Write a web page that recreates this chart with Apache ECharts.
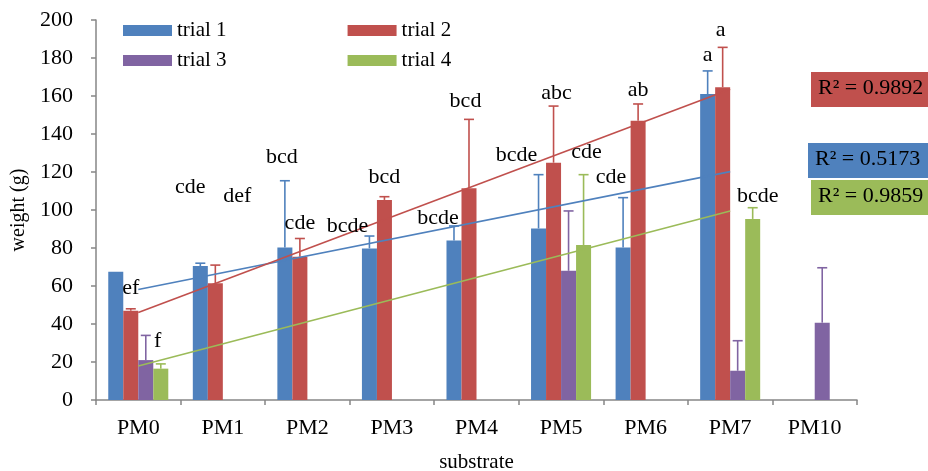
<!DOCTYPE html>
<html>
<head>
<meta charset="utf-8">
<script src="https://cdn.jsdelivr.net/npm/echarts@6/dist/echarts.min.js"></script>
<style>html,body{margin:0;padding:0;background:#fff}#c{width:928px;height:471px}</style>
</head>
<body>
<div id="c"></div>
<script>
const categories = ['PM0','PM1','PM2','PM3','PM4','PM5','PM6','PM7','PM10'];
const seriesNames = ['trial 1','trial 2','trial 3','trial 4'];
const trial1 = [67.5, 70.5, 80.3, 79.8, 83.9, 90.3, 80.2, 161.0, null];
const trial2 = [47.0, 61.4, 75.4, 105.3, 111.4, 124.9, 147.0, 164.6, null];
const trial3 = [21.0, null, null, null, null, 68.0, null, 15.4, 40.7];
const trial4 = [16.5, null, null, null, null, 81.6, null, 95.3, null];
const err1 = [0, 1.5, 35.1, 6.5, 7.7, 28.3, 26.3, 12.2, null];
const err2 = [1.0, 9.6, 9.6, 1.7, 36.3, 29.8, 8.8, 21.0, null];
const err3 = [13.0, null, null, null, null, 31.5, null, 15.8, 28.9];
const err4 = [2.5, null, null, null, null, 37.0, null, 5.9, null];
// linear trendlines: value at PM0 and at PM7
const trendStartIdx = 0, trendEndIdx = 7;
const trend1 = [58.2, 120.2];
const trend2 = [46.0, 163.5];
const trend4 = [17.9, 99.5];
const r2Labels = ['R² = 0.9892', 'R² = 0.5173', 'R² = 0.9859'];
// significance letters: [category index, trial index, y value, text]
const letters = [
  [0,1,59,'ef'],[0,2,31,'f'],[1,0,112,'cde'],[1,1,107,'def'],
  [2,0,127.8,'bcd'],[2,1,93.2,'cde'],[3,0,91.6,'bcde'],[3,1,117.5,'bcd'],
  [4,0,95.6,'bcde'],[4,1,157.5,'bcd'],[5,0,129,'bcde'],[5,1,161.4,'abc'],
  [5,3,130.2,'cde'],[6,0,117.2,'cde'],[6,1,162.8,'ab'],[7,0,181.6,'a'],
  [7,1,194.4,'a'],[7,3,107,'bcde']
];
const yTicks = [0,20,40,60,80,100,120,140,160,180,200];

// ---- styles ----
const colors = ['#4F81BD','#C0504D','#8064A2','#9BBB59'];
const letterNudge = [0,12,-10,22,-3,0,-22,0,-16,-3.5,-22,3,3,-12,0,0,-2,5];
const FONT = '"Liberation Serif","Times New Roman",serif';
const GAP = 0.29;
const values = [trial1, trial2, trial3, trial4];
const errs = [err1, err2, err3, err4];

function slotX(api, cat, trial) {
  const c = api.coord([cat, 0]);
  const band = api.size([1, 0])[0];
  const bw = band * (1 - GAP) / 4;
  return c[0] + (trial - 1.5) * bw;
}

const series = [];
values.forEach((v, t) => {
  series.push({
    name: seriesNames[t], type: 'bar', data: v, barGap: 0, barCategoryGap: (GAP*100)+'%',
    itemStyle: { color: colors[t] }, z: 2, animation: false
  });
});
values.forEach((v, t) => {
  const data = [];
  v.forEach((val, i) => { if (val != null && errs[t][i]) data.push([i, val, val + errs[t][i]]); });
  series.push({
    type: 'custom', z: 4, animation: false, silent: true,
    data: data,
    renderItem: function (params, api) {
      const cat = api.value(0);
      const x = slotX(api, cat, t);
      const y0 = api.coord([cat, api.value(1)])[1];
      const y1 = api.coord([cat, api.value(2)])[1];
      const st = { stroke: colors[t], lineWidth: 1.6 };
      return { type: 'group', children: [
        { type: 'line', shape: { x1: x, y1: y0, x2: x, y2: y1 }, style: st },
        { type: 'line', shape: { x1: x - 5, y1: y1, x2: x + 5, y2: y1 }, style: st }
      ]};
    }
  });
});
[[trend1, 0], [trend2, 1], [trend4, 3]].forEach(([tr, t]) => {
  const d = categories.map(() => null);
  d[trendStartIdx] = tr[0]; d[trendEndIdx] = tr[1];
  series.push({
    type: 'line', data: d, connectNulls: true, symbol: 'none', z: 5, animation: false, silent: true,
    lineStyle: { color: colors[t], width: 1.6 }
  });
});
series.push({
  type: 'custom', z: 6, animation: false, silent: true,
  data: letters.map((l, i) => [l[0], l[2], l[1], i]),
  renderItem: function (params, api) {
    const i = api.value(3);
    const cat = api.value(0);
    const x = slotX(api, cat, api.value(2)) + letterNudge[i];
    const y = api.coord([cat, api.value(1)])[1];
    return { type: 'text', style: { text: letters[i][3], x: x, y: y, textAlign: 'center', textVerticalAlign: 'middle', font: '22px ' + FONT, fill: '#000' } };
  }
});

const axisColor = '#868686';
const legendCommon = { left: 123, padding: 0, itemWidth: 49, itemHeight: 11, itemGap: 121, icon: 'rect',
  textStyle: { fontFamily: FONT, fontSize: 21, color: '#000' } };

const r2Boxes = [
  { y: 72, x: 811, color: colors[1], text: r2Labels[0] },
  { y: 143, x: 808, color: colors[0], text: r2Labels[1] },
  { y: 180, x: 811, color: colors[3], text: r2Labels[2] }
];
const graphic = [];
r2Boxes.forEach(b => {
  graphic.push({ type: 'rect', left: b.x, top: b.y, shape: { width: 928 - b.x, height: 35 }, style: { fill: b.color }, z: 10 });
  graphic.push({ type: 'text', left: b.x + 7, top: b.y + 5, style: { text: b.text, font: '22px ' + FONT, fill: '#000' }, z: 11 });
});

const chart = echarts.init(document.getElementById('c'));
chart.setOption({
  animation: false,
  grid: { left: 96, right: 71, top: 20, bottom: 71, containLabel: false, outerBoundsMode: 'none' },
  legend: [
    Object.assign({ data: ['trial 1','trial 2'], top: 20 }, legendCommon),
    Object.assign({ data: ['trial 3','trial 4'], top: 50 }, legendCommon)
  ],
  xAxis: {
    type: 'category', data: categories,
    name: 'substrate', nameLocation: 'middle', nameGap: 52,
    nameTextStyle: { fontFamily: FONT, fontSize: 21, color: '#000' },
    axisLine: { lineStyle: { color: axisColor, width: 1.5 } },
    axisTick: { show: true, length: 5, lineStyle: { color: axisColor, width: 1.5 } },
    axisLabel: { fontFamily: FONT, fontSize: 22, color: '#000', margin: 17 }
  },
  yAxis: {
    type: 'value', min: 0, max: 200, interval: 20,
    name: 'weight (g)', nameLocation: 'middle', nameGap: 66, nameRotate: 90,
    nameTextStyle: { fontFamily: FONT, fontSize: 20, color: '#000' },
    axisLine: { show: true, lineStyle: { color: axisColor, width: 1.5 } },
    axisTick: { show: true, length: 5, lineStyle: { color: axisColor, width: 1.5 } },
    splitLine: { show: false },
    axisLabel: { fontFamily: FONT, fontSize: 22, color: '#000', margin: 23,
      formatter: v => yTicks.includes(v) ? String(v) : '' }
  },
  series: series,
  graphic: graphic
});
</script>
</body>
</html>
